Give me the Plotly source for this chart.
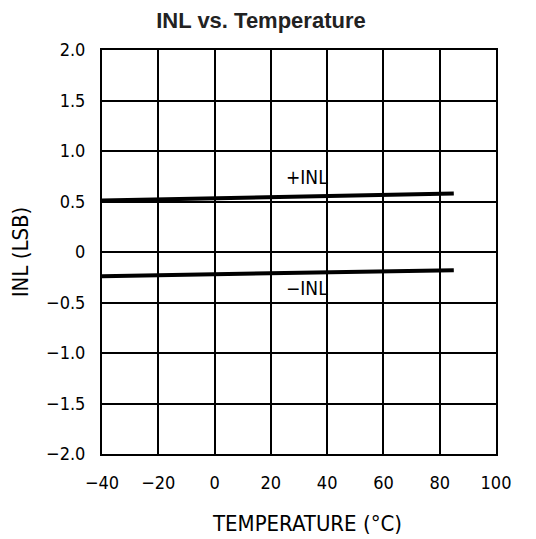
import plotly.graph_objects as go

temp = [-40, 85]
inl_pos = [0.51, 0.58]
inl_neg = [-0.24, -0.18]

x_ticks = [-40, -20, 0, 20, 40, 60, 80, 100]
x_ticklabels = ["\u221240", "\u221220", "0", "20", "40", "60", "80", "100"]
y_ticks = [-2.0, -1.5, -1.0, -0.5, 0, 0.5, 1.0, 1.5, 2.0]
y_ticklabels = ["\u22122.0", "\u22121.5", "\u22121.0", "\u22120.5", "0", "0.5", "1.0", "1.5", "2.0"]

cond = "DejaVu Sans Condensed, DejaVu Sans"
tick_font = dict(family=cond, size=18, color="black")
title_font = dict(family=cond, size=22, color="black")

fig = go.Figure()
fig.add_trace(go.Scatter(x=temp, y=inl_pos, mode="lines", line=dict(color="black", width=4), showlegend=False))
fig.add_trace(go.Scatter(x=temp, y=inl_neg, mode="lines", line=dict(color="black", width=4), showlegend=False))

fig.add_annotation(x=33, y=0.74, text="+INL", showarrow=False, font=dict(family=cond, size=19, color="black"))
fig.add_annotation(x=33, y=-0.36, text="\u2212INL", showarrow=False, font=dict(family=cond, size=19, color="black"))
fig.add_annotation(x=0.52, y=-0.173, xref="paper", yref="paper", text="TEMPERATURE (\u00b0C)",
                   showarrow=False, font=title_font, xanchor="center", yanchor="middle")

fig.update_layout(
    width=536, height=539,
    margin=dict(l=94, r=48, t=42, b=93),
    paper_bgcolor="white", plot_bgcolor="white",
    title=dict(text="<b>INL vs. Temperature</b>", x=0.472, xanchor="center", y=0.978, yanchor="middle",
               font=dict(family="Liberation Sans, Arial", size=22, color="#222")),
    xaxis=dict(range=[-40, 100], tickvals=x_ticks, ticktext=x_ticklabels, showgrid=True,
               gridcolor="black", gridwidth=1.5, zeroline=False, showline=True, linecolor="black",
               linewidth=2, mirror=True, ticks="", ticklabelstandoff=11, tickfont=tick_font),
    yaxis=dict(range=[-2, 2], tickvals=y_ticks, ticktext=y_ticklabels, showgrid=True,
               gridcolor="black", gridwidth=1.5, zeroline=False, showline=True, linecolor="black",
               linewidth=2, mirror=True, ticks="", ticklabelstandoff=11, tickfont=tick_font,
               title=dict(text="INL (LSB)", font=title_font, standoff=12)),
)

fig.write_html("out.html")
